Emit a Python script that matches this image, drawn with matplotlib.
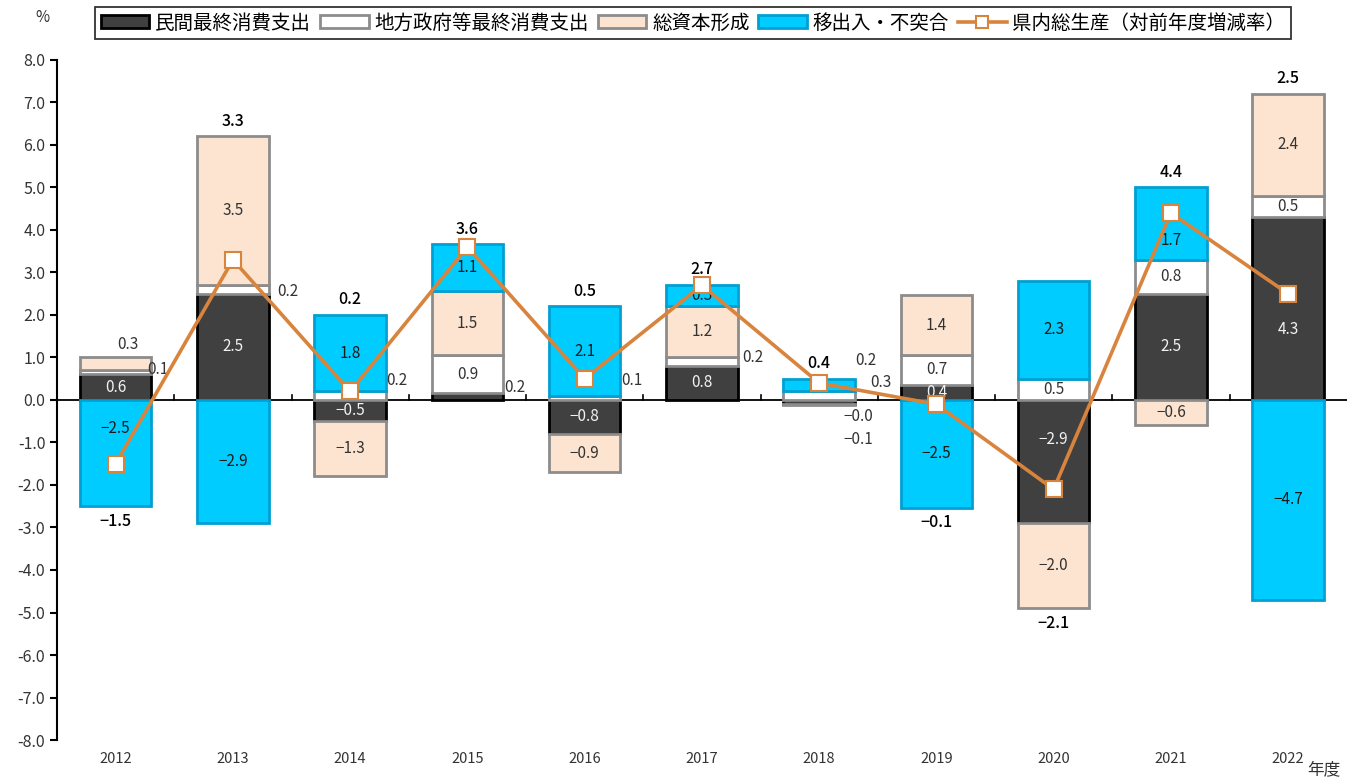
import matplotlib
matplotlib.use("Agg")
import matplotlib.pyplot as plt
import numpy as np
from matplotlib.patches import Patch
from matplotlib.lines import Line2D

plt.rcParams['font.family'] = ['Noto Sans CJK JP', 'DejaVu Sans']
plt.rcParams['axes.unicode_minus'] = False

years = ["2012", "2013", "2014", "2015", "2016", "2017", "2018", "2019", "2020", "2021", "2022"]
private = [0.6, 2.5, -0.5, 0.16, -0.8, 0.8, -0.1, 0.36, -2.9, 2.5, 4.3]
government = [0.1, 0.2, 0.2, 0.9, 0.1, 0.2, 0.2, 0.7, 0.5, 0.8, 0.5]
capital = [0.3, 3.5, -1.3, 1.5, -0.9, 1.2, -0.02, 1.4, -2.0, -0.6, 2.4]
net_exports = [-2.5, -2.9, 1.8, 1.1, 2.1, 0.5, 0.3, -2.54, 2.3, 1.7, -4.7]
gdp = [-1.5, 3.3, 0.2, 3.6, 0.5, 2.7, 0.4, -0.1, -2.1, 4.4, 2.5]

names = ["民間最終消費支出", "地方政府等最終消費支出", "総資本形成", "移出入・不突合"]
line_name = "県内総生産（対前年度増減率）"

series = [private, government, capital, net_exports]
fills = ["#404040", "#FFFFFF", "#FCE4D0", "#00CCFF"]
edges = ["#000000", "#8C8C8C", "#8C8C8C", "#00A0D2"]
txt_col = ["#F2F2F2", "#333333", "#333333", "#1A1A1A"]
line_col = "#D8843C"

# label spots for segments too thin to hold their number: (dx, y)
outside = {
    (0, 1): (0.36, 0.72), (0, 2): (0.10, 1.3),
    (1, 1): (0.47, 2.56), (2, 1): (0.40, 0.45),
    (3, 0): (0.40, 0.30), (4, 1): (0.40, 0.45),
    (5, 1): (0.43, 1.0), (6, 1): (0.40, 0.92),
    (6, 3): (0.53, 0.40), (6, 2): (0.33, -0.40),
    (6, 0): (0.33, -0.94),
}
# inside labels nudged away from the line markers: y
nudged = {(0, 3): -0.66, (8, 0): -0.94, (9, 3): 3.76, (10, 0): 1.65}

fig = plt.figure(figsize=(13.59, 7.82), dpi=100)
ax = fig.add_axes([0.042, 0.0537, 0.949, 0.8696])

x = np.arange(len(years))
w = 0.61
pos_base = np.zeros(len(years))
neg_base = np.zeros(len(years))
for s, vals in enumerate(series):
    vals = np.array(vals)
    base = np.where(vals >= 0, pos_base, neg_base)
    ax.bar(x, vals, w, bottom=base, color=fills[s], edgecolor=edges[s],
           linewidth=2, zorder=2)
    for i, v in enumerate(vals):
        lab = f"{v:.1f}".replace("-", "\u2212")
        if (i, s) in outside:
            dx, yy = outside[(i, s)]
            ax.text(x[i] + dx, yy, lab, ha="center", va="center",
                    fontsize=11, color="#333333", zorder=3)
        else:
            yy = nudged.get((i, s), base[i] + v / 2)
            ax.text(x[i], yy, lab, ha="center", va="center",
                    fontsize=11, color=txt_col[s], zorder=3)
    pos_base = pos_base + np.where(vals >= 0, vals, 0)
    neg_base = neg_base + np.where(vals < 0, vals, 0)

ax.plot(x, gdp, color=line_col, linewidth=2.6, marker="s", markersize=11,
        markerfacecolor="white", markeredgecolor=line_col, markeredgewidth=1.5,
        zorder=4)

for i, g in enumerate(gdp):
    lab = f"{g:.1f}".replace("-", "\u2212")
    if g >= 0:
        yy = max(pos_base[i], g) + 0.36
    else:
        yy = neg_base[i] - 0.35
    ax.text(x[i], yy, lab, ha="center", va="center", fontsize=11.5,
            color="black", fontweight="medium", zorder=3)

ax.set_xlim(-0.5, len(years) - 0.5)
ax.set_ylim(-8, 8)
ax.set_yticks(np.arange(-8, 9, 1))
ax.set_yticklabels([f"{v:.1f}" for v in np.arange(-8, 9, 1)], fontsize=11.5, color="#333333")
ax.tick_params(axis="y", direction="out", length=5, width=1.5, color="black")

for sp in ["top", "right", "bottom"]:
    ax.spines[sp].set_visible(False)
ax.spines["left"].set_linewidth(1.5)
ax.axhline(0, color="black", linewidth=1.3, zorder=1)
for b in np.arange(0.5, len(years) - 0.5, 1):
    ax.plot([b, b], [0, 0.12], color="black", linewidth=1.2, zorder=1)

ax.set_xticks([])
for i, yr in enumerate(years):
    ax.text(x[i], -8.45, yr, ha="center", va="center", fontsize=10.5, color="#333333")

fig.text(0.974, 0.016, "年度", ha="center", va="center", fontsize=12, color="#333333")
fig.text(0.031, 0.977, "%", ha="center", va="center", fontsize=11, color="#333333")

handles = [Patch(facecolor=fills[s], edgecolor=edges[s], linewidth=2, label=names[s])
           for s in range(4)]
handles.append(Line2D([0], [0], color=line_col, linewidth=2.6, marker="s", markersize=9,
                      markerfacecolor="white", markeredgecolor=line_col,
                      markeredgewidth=1.5, label=line_name))
leg = fig.legend(handles=handles, loc="center", bbox_to_anchor=(0.51, 0.9706), ncol=5,
                 frameon=True, fancybox=False, edgecolor="black", fontsize=14,
                 handlelength=2.5, handleheight=0.6, handletextpad=0.3,
                 columnspacing=0.45, borderpad=0.3)
leg.get_frame().set_linewidth(1.3)

fig.savefig("out.png", dpi=100)
